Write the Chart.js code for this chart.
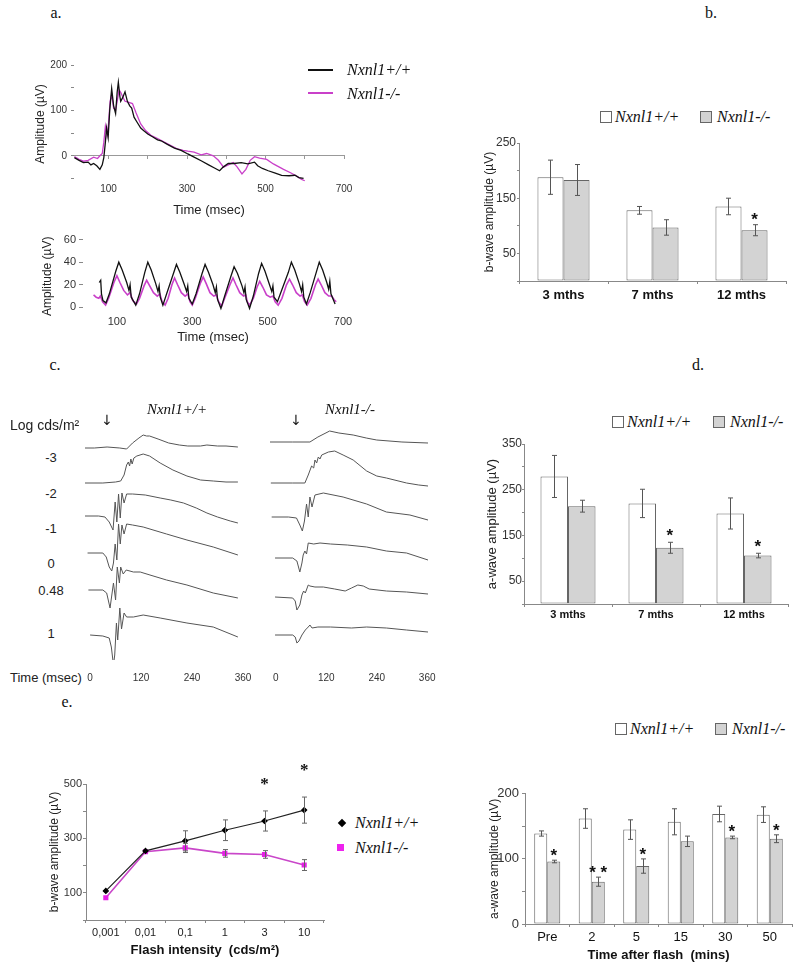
<!DOCTYPE html>
<html>
<head>
<meta charset="utf-8">
<title>Nxnl1 ERG figure</title>
<script src="https://cdn.jsdelivr.net/npm/chart.js@4.4.1/dist/chart.umd.min.js"></script>
<style>
  body { margin: 0; background: #fff; }
  #fig { position: relative; width: 799px; height: 968px; overflow: hidden; background: #fff; }
  #fig canvas { position: absolute; }
  .txt { position: absolute; white-space: nowrap; transform: translate(-50%, -50%); line-height: 1;
         font-family: "Liberation Sans", Arial, sans-serif; color: #222; }
  .box { position: absolute; box-sizing: border-box; }
</style>
</head>
<body>
<div id="fig"></div>
<script>
// ============================================
// DATA
// ============================================

// a. single flash ERG, time (msec) / amplitude (uV)
const flashT_wt = [13, 25, 36, 48, 55, 62, 70, 78, 84, 88, 92, 95, 99, 103, 108, 113, 118, 122, 125, 129, 131, 136, 142, 148, 154, 159, 165, 172, 182, 190, 200, 212, 225, 234, 250, 268, 285, 302, 318, 336, 355, 370, 383, 392, 405, 420, 438, 455, 472, 480, 492, 507, 525, 541, 560, 575, 585, 597];
const flashA_wt = [-4, -10, -15, -14, -20, -17, -22, -30, -20, -4, 30, 61, 40, 100, 148, 110, 93, 140, 162, 130, 120, 128, 141, 120, 110, 105, 85, 75, 61, 55, 48, 42, 35, 33, 25, 17, 12, 4, -3, -11, -20, -27, -33, -25, -17, -17, -15, -18, -14, -22, -28, -33, -38, -43, -44, -43, -48, -50];
const flashT_ko = [13, 25, 36, 48, 62, 72, 78, 84, 88, 92, 96, 100, 104, 108, 113, 118, 123, 127, 131, 136, 142, 150, 161, 170, 182, 195, 208, 225, 242, 260, 276, 290, 302, 318, 336, 350, 367, 380, 393, 405, 418, 428, 440, 450, 461, 472, 485, 503, 520, 546, 565, 580, 592, 600];
const flashA_ko = [-2, -8, -12, -10, -3, -6, 0, 5, 30, 65, 45, 70, 120, 135, 105, 100, 125, 145, 140, 130, 120, 118, 115, 95, 70, 55, 45, 38, 30, 22, 15, 12, 10, 8, 2, 5, 0, -10, -25, -20, -15, -25, -40, -30, -10, -2, -5, -8, -18, -30, -38, -45, -52, -55];

// a. flicker ERG
const flickT_wt = [53, 57, 59, 63, 71, 80, 97, 105, 114, 126, 132, 135, 138, 150, 160, 174, 182, 191, 203, 209, 212, 215, 222, 232, 250, 258, 267, 279, 285, 288, 291, 300, 310, 326, 334, 343, 355, 361, 364, 367, 376, 386, 403, 411, 420, 432, 437, 440, 443, 452, 462, 476, 484, 493, 505, 511, 514, 517, 526, 536, 555, 563, 572, 584, 590, 593, 596, 603, 613, 629, 637, 646, 657, 662, 665, 668, 679];
const flickA_wt = [22, 24, 12, 6, 4, 12, 32, 40, 33, 22, 15, 20, 9, 2, 12, 31, 40, 33, 21, 14, 19, 9, 2, 12, 30, 38, 31, 20, 14, 19, 8, 3, 12, 30, 38, 31, 20, 13, 18, 7, -1, 10, 28, 36, 30, 19, 13, 18, 7, -1, 10, 30, 39, 32, 20, 14, 19, 9, 5, 14, 31, 40, 33, 21, 14, 20, 9, 3, 13, 31, 40, 33, 22, 16, 23, 12, 3];
const flickT_ko = [38, 45, 52, 56, 62, 70, 78, 92, 100, 108, 118, 128, 135, 142, 152, 160, 172, 179, 187, 197, 207, 214, 220, 228, 236, 246, 253, 261, 271, 281, 288, 294, 300, 308, 321, 329, 337, 347, 357, 364, 370, 378, 386, 400, 408, 416, 426, 436, 442, 446, 452, 462, 472, 479, 487, 497, 507, 514, 520, 528, 538, 550, 558, 566, 576, 586, 592, 598, 605, 615, 627, 634, 642, 652, 662, 670, 676, 682];
const flickA_ko = [11, 9, 8, 10, 5, 2, 8, 22, 28, 22, 15, 11, 13, 6, 3, 8, 19, 24, 19, 13, 10, 12, 5, 2, 8, 20, 26, 20, 13, 10, 12, 5, 2, 8, 21, 27, 21, 13, 10, 11, 5, 1, 8, 20, 26, 20, 13, 10, 11, 5, 2, 8, 18, 23, 18, 11, 9, 10, 5, 2, 8, 20, 25, 20, 13, 10, 11, 5, 2, 8, 20, 25, 20, 13, 10, 10, 7, 5];

const timeTicksA = [100, 300, 500, 700];
const zeroTicksA = [100, 200, 300, 400, 500, 600, 700];
const flashYTicks = [-50, 0, 50, 100, 150, 200];
const flashYLabels = [0, 100, 200];
const flickYTicks = [0, 20, 40, 60];

// b. b-wave amplitude by age
const ageGroups = ['3 mths', '7 mths', '12 mths'];
const bwaveWT = [188, 128, 135];
const bwaveWTErr = [31, 7, 15];
const bwaveKO = [183, 97, 92];
const bwaveKOErr = [28, 14, 10];
const bwaveKOSig = ['', '', '*'];
const bYLabels = [50, 150, 250];

// c. intensity series, [time msec, relative amplitude]
const intensityLabels = ['-3', '-2', '-1', '0', '0.48', '1'];
const traceTicks = [0, 120, 240, 360];
const wtM3 = [[-12, 0], [10, 0], [40, 1], [70, 0], [86, -1], [100, 5], [115, 10], [125, 13], [133, 12], [140, 12], [160, 9], [185, 5], [210, 3], [230, 2], [260, 2], [275, 3], [300, 2], [320, 2], [348, 1]];
const wtM2 = [[-12, 0], [30, 0], [60, 1], [72, 2], [80, 8], [86, 18], [90, 21], [93, 17], [96, 24], [99, 19], [103, 25], [110, 27], [125, 29], [140, 27], [165, 20], [195, 13], [228, 7], [260, 3], [290, 2], [320, 1], [348, 1]];
const wtM1 = [[-12, 0], [20, 0], [35, -1], [45, -6], [54, -14], [59, 14], [63, -6], [67, 22], [71, -2], [75, 23], [80, 13], [86, 22], [100, 22], [130, 21], [165, 18], [190, 16], [220, 13], [250, 8], [275, 3], [300, -1], [330, -5], [348, -7]];
const wt0 = [[-6, 0], [30, 0], [38, -4], [45, -14], [51, -18], [55, -10], [59, 9], [63, -7], [67, 29], [71, 9], [75, 28], [80, 19], [86, 29], [100, 28], [125, 26], [180, 19], [228, 13], [290, 6], [348, -2]];
const wt048 = [[-4, 0], [30, 0], [39, -3], [47, -18], [55, 7], [60, -10], [64, 23], [69, 7], [72, 23], [78, 16], [85, 20], [102, 18], [118, 18], [141, 15], [180, 10], [228, 5], [290, -3], [348, -8]];
const wt1 = [[0, 0], [30, -1], [45, -3], [50, -12], [55, -30], [58, -20], [62, 12], [65, -5], [70, 27], [74, 6], [80, 22], [86, 18], [102, 18], [125, 20], [165, 17], [228, 12], [290, 8], [348, -2]];
const koM3 = [[-14, 0], [40, 0], [81, 0], [100, 5], [128, 11], [150, 9], [184, 7], [215, 4], [240, 2], [300, 0], [362, -1]];
const koM2 = [[-12, 0], [40, 0], [69, 0], [77, 8], [85, 17], [90, 15], [93, 23], [97, 20], [101, 26], [105, 24], [109, 28], [125, 31], [140, 32], [160, 28], [184, 23], [216, 12], [240, 7], [263, 5], [311, 0], [340, -2], [362, -3]];
const koM1 = [[-10, 0], [30, 0], [49, -1], [57, -8], [63, -14], [68, -4], [73, 13], [77, 0], [81, 20], [86, 10], [93, 22], [113, 24], [160, 20], [216, 13], [263, 5], [319, 2], [362, -3]];
const ko0 = [[-2, 0], [40, 0], [50, -3], [57, -14], [62, -5], [65, 3], [69, 7], [73, 4], [77, 15], [90, 14], [105, 15], [130, 14], [170, 13], [216, 11], [263, 7], [311, 5], [362, -2]];
const ko048 = [[-2, 0], [40, -1], [46, -4], [50, -13], [57, -8], [62, 2], [66, 6], [70, 4], [77, 12], [81, 11], [93, 10], [113, 10], [140, 8], [165, 6], [180, 9], [195, 12], [208, 11], [222, 8], [263, 6], [311, 5], [362, 3]];
const ko1 = [[-2, 0], [40, 0], [46, -2], [50, -8], [55, -6], [62, 0], [70, 5], [77, 8], [81, 10], [86, 7], [100, 8], [130, 8], [180, 7], [216, 8], [263, 7], [311, 5], [362, 3]];

// d. a-wave amplitude by age
const awaveWT = [279, 220, 198];
const awaveWTErr = [46, 31, 34];
const awaveKO = [214, 123, 106];
const awaveKOErr = [13, 12, 5];
const awaveKOSig = ['', '*', '*'];
const dYLabels = [50, 150, 250, 350];

// e. intensity-response
const flashIntensities = ['0,001', '0,01', '0,1', '1', '3', '10'];
const ivWT = [107, 254, 291, 330, 364, 404];
const ivWTErr = [0, 0, 37, 38, 37, 48];
const ivWTSig = ['', '', '', '', '*', '*'];
const ivKO = [82, 251, 265, 245, 241, 202];
const ivKOErr = [0, 0, 17, 14, 14, 20];
const eYLabels = [100, 300, 500];

// f. recovery after bleaching flash
const recoveryTimes = ['Pre', '2', '5', '15', '30', '50'];
const recWT = [139, 162, 145, 157, 169, 168];
const recWTErr = [4, 15, 15, 20, 12, 12];
const recKO = [96, 65, 89, 127, 133, 131];
const recKOErr = [2, 7, 11, 8, 2, 6];
const recKOSig = ['*', '* *', '*', '', '*', '*'];
const fYLabels = [0, 100, 200];

// ============================================
// LAYOUT HELPERS
// ============================================

const fig = document.getElementById('fig');
const SANS = "'Liberation Sans', Arial, sans-serif";
const SERIF = "'Liberation Serif', 'Times New Roman', serif";
Chart.defaults.font.family = SANS;
Chart.defaults.color = '#222';

// error bars and significance marks drawn from dataset.errors / dataset.marks
const errorBars = {
    id: 'errorBars',
    afterDatasetsDraw(chart, args, opts) {
        const ctx = chart.ctx;
        const yScale = chart.scales.y;
        chart.data.datasets.forEach((ds, i) => {
            if (!ds.errors) return;
            chart.getDatasetMeta(i).data.forEach((el, j) => {
                const v = ds.data[j];
                const e = ds.errors[j] || 0;
                const top = yScale.getPixelForValue(v + e);
                const bottom = yScale.getPixelForValue(v - e);
                const x = Math.round(el.x) + 0.5;
                ctx.save();
                if (e) {
                    ctx.strokeStyle = opts.color;
                    ctx.lineWidth = 1;
                    ctx.beginPath();
                    ctx.moveTo(x, top); ctx.lineTo(x, bottom);
                    ctx.moveTo(x - opts.cap, top); ctx.lineTo(x + opts.cap, top);
                    ctx.moveTo(x - opts.cap, bottom); ctx.lineTo(x + opts.cap, bottom);
                    ctx.stroke();
                }
                const mark = ds.marks && ds.marks[j];
                if (mark) {
                    ctx.fillStyle = '#111';
                    ctx.font = opts.markFont;
                    ctx.textAlign = 'center';
                    ctx.textBaseline = 'middle';
                    ctx.fillText(mark, el.x, top - opts.markGap);
                }
                ctx.restore();
            });
        });
    }
};

/**
 * Puts a chart on the page so that its plot area lands on `area`
 * @param {object} area - plot rectangle {x, y, w, h} in page pixels
 * @param {object} room - space round the plot for ticks and titles {l, r, t, b}
 * @param {object} config - Chart.js config
 */
function placeChart(area, room, config) {
    const canvas = document.createElement('canvas');
    const w = area.w + room.l + room.r;
    const h = area.h + room.t + room.b;
    canvas.width = w;
    canvas.height = h;
    canvas.style.left = (area.x - room.l) + 'px';
    canvas.style.top = (area.y - room.t) + 'px';
    canvas.style.width = w + 'px';
    canvas.style.height = h + 'px';
    fig.appendChild(canvas);

    const o = config.options;
    o.responsive = false;
    o.animation = false;
    o.devicePixelRatio = 1;
    o.layout = { padding: { top: room.t, right: room.r, left: 0, bottom: 0 } };
    o.scales.x.afterFit = s => { s.height = room.b; };
    o.scales.y.afterFit = s => { s.width = room.l; };
    o.plugins = Object.assign({ legend: { display: false }, tooltip: { enabled: false } }, o.plugins || {});
    return new Chart(canvas, config);
}

function addText(text, x, y, style, anchorLeft) {
    const d = document.createElement('div');
    d.className = 'txt';
    d.textContent = text;
    d.style.left = x + 'px';
    d.style.top = y + 'px';
    if (anchorLeft) d.style.transform = 'translate(0, -50%)';
    Object.assign(d.style, style || {});
    fig.appendChild(d);
}

function addBox(x, y, w, h, style) {
    const d = document.createElement('div');
    d.className = 'box';
    Object.assign(d.style, { left: x + 'px', top: y + 'px', width: w + 'px', height: h + 'px' }, style);
    fig.appendChild(d);
}

const pairs = (ts, vs) => ts.map((t, i) => ({ x: t, y: vs[i] }));
const fixedTicks = list => s => { s.ticks = list.map(v => ({ value: v })); };
const onlyLabels = list => v => (list.includes(v) ? v : '');
// hidden tick marks whose length only pushes the labels down
const labelDrop = n => ({ display: false, drawTicks: true, tickLength: n });

const panelLabel = { fontFamily: SERIF, fontSize: '16px', color: '#111' };
const legendText = { fontFamily: SERIF, fontStyle: 'italic', fontSize: '16px', color: '#111' };
const WT_FILL = '#ffffff';
const KO_FILL = '#d3d3d3';
const BAR_EDGE = '#666';
const MAGENTA = '#c940c9';

// ============================================
// PANEL A
// ============================================

placeChart({ x: 74, y: 63, w: 270, h: 120 }, { l: 41, r: 10, t: 8, b: 35 }, {
    type: 'line',
    data: {
        datasets: [
            { data: pairs(flashT_wt, flashA_wt), xAxisID: 'x', borderColor: '#111', borderWidth: 1.3, pointRadius: 0 },
            { data: pairs(flashT_ko, flashA_ko), xAxisID: 'x', borderColor: MAGENTA, borderWidth: 1.3, pointRadius: 0 }
        ]
    },
    options: {
        scales: {
            x: {
                type: 'linear', min: 12, max: 700,
                afterBuildTicks: fixedTicks(timeTicksA),
                grid: labelDrop(0), border: { display: false },
                ticks: { font: { size: 10 }, padding: 0, maxRotation: 0, color: '#333' },
                title: { display: true, text: 'Time (msec)', font: { size: 13 }, padding: 0, color: '#222' }
            },
            zero: {
                axis: 'x', type: 'linear', min: 12, max: 700, position: { y: 0 },
                afterBuildTicks: fixedTicks(zeroTicksA),
                ticks: { display: false },
                grid: { drawOnChartArea: false, tickLength: 3, color: '#999' },
                border: { display: true, color: '#999' }
            },
            y: {
                min: -60, max: 200,
                afterBuildTicks: fixedTicks(flashYTicks),
                ticks: { callback: onlyLabels(flashYLabels), font: { size: 10 }, padding: 4, color: '#333' },
                grid: { drawOnChartArea: false, tickLength: 3, color: '#888' },
                border: { display: false },
                title: { display: true, text: 'Amplitude (µV)', font: { size: 12 }, padding: 0, color: '#222' }
            }
        }
    }
});

placeChart({ x: 83, y: 238, w: 260, h: 75 }, { l: 43, r: 10, t: 8, b: 32 }, {
    type: 'line',
    data: {
        datasets: [
            { data: pairs(flickT_wt, flickA_wt), borderColor: '#111', borderWidth: 1.3, pointRadius: 0 },
            { data: pairs(flickT_ko, flickA_ko), borderColor: MAGENTA, borderWidth: 1.6, pointRadius: 0 }
        ]
    },
    options: {
        scales: {
            x: {
                type: 'linear', min: 10, max: 700,
                afterBuildTicks: fixedTicks(timeTicksA),
                grid: labelDrop(2), border: { display: false },
                ticks: { font: { size: 11 }, padding: 0, maxRotation: 0, color: '#333' },
                title: { display: true, text: 'Time (msec)', font: { size: 13 }, padding: 0, color: '#222' }
            },
            y: {
                min: -5, max: 60,
                afterBuildTicks: fixedTicks(flickYTicks),
                ticks: { font: { size: 11 }, padding: 3, color: '#333' },
                grid: { drawOnChartArea: false, tickLength: 4, color: '#888' },
                border: { display: false },
                title: { display: true, text: 'Amplitude (µV)', font: { size: 12 }, padding: 0, color: '#222' }
            }
        }
    }
});

addText('a.', 56, 13, panelLabel);
addBox(308, 69, 25, 2, { background: '#111' });
addText('Nxnl1+/+', 347, 70, legendText, true);
addBox(308, 92, 25, 2, { background: MAGENTA });
addText('Nxnl1-/-', 347, 94, legendText, true);

// ============================================
// BAR PANELS (b, d, f)
// ============================================

function barPanel(area, room, cfg) {
    return placeChart(area, room, {
        type: 'bar',
        data: {
            labels: cfg.labels,
            datasets: [
                { data: cfg.wt, errors: cfg.wtErr, backgroundColor: WT_FILL, borderColor: BAR_EDGE, borderWidth: 1, borderSkipped: false },
                { data: cfg.ko, errors: cfg.koErr, marks: cfg.koSig, backgroundColor: KO_FILL, borderColor: BAR_EDGE, borderWidth: 1, borderSkipped: false }
            ]
        },
        options: {
            datasets: { bar: { categoryPercentage: cfg.catPct, barPercentage: 1 } },
            scales: {
                x: {
                    grid: { display: true, drawOnChartArea: false, offset: true, tickLength: 3, color: '#888' },
                    border: { color: '#888' },
                    ticks: { font: cfg.xFont, color: '#111', padding: cfg.xPad, maxRotation: 0 },
                    title: cfg.xTitle
                        ? { display: true, text: cfg.xTitle, font: { size: 13, weight: 'bold' }, padding: 0, color: '#111' }
                        : { display: false }
                },
                y: {
                    min: 0, max: cfg.max,
                    ticks: { stepSize: 50, callback: onlyLabels(cfg.yLabels), font: { size: cfg.yFont }, padding: cfg.yPad, color: '#333' },
                    grid: { drawOnChartArea: false, tickLength: cfg.yTick, color: '#888' },
                    border: { color: '#888' },
                    title: { display: true, text: cfg.yTitle, font: { size: cfg.yTitleSize }, padding: 0, color: '#222' }
                }
            },
            plugins: { errorBars: { color: '#555', cap: 2.5, markGap: cfg.markGap, markFont: 'bold 17px ' + SANS } }
        },
        plugins: [errorBars]
    });
}

function barLegend(x1, x2, y) {
    addBox(x1, y - 6, 12, 12, { background: WT_FILL, border: '1px solid ' + BAR_EDGE });
    addText('Nxnl1+/+', x1 + 15, y, legendText, true);
    addBox(x2, y - 6, 12, 12, { background: KO_FILL, border: '1px solid ' + BAR_EDGE });
    addText('Nxnl1-/-', x2 + 17, y, legendText, true);
}

// b.
barPanel({ x: 519, y: 143, w: 267, h: 138 }, { l: 37, r: 8, t: 10, b: 30 }, {
    labels: ageGroups, wt: bwaveWT, wtErr: bwaveWTErr, ko: bwaveKO, koErr: bwaveKOErr, koSig: bwaveKOSig,
    catPct: 0.585, max: 250, yLabels: bYLabels, yFont: 12, yPad: 1, yTick: 2,
    xFont: { size: 13, weight: 'bold' }, xPad: 4,
    yTitle: 'b-wave amplitude (µV)', yTitleSize: 12, markGap: 4
});
addText('b.', 711, 13, panelLabel);
barLegend(600, 700, 117);

// d.
barPanel({ x: 524, y: 444, w: 264, h: 160 }, { l: 39, r: 8, t: 10, b: 22 }, {
    labels: ageGroups, wt: awaveWT, wtErr: awaveWTErr, ko: awaveKO, koErr: awaveKOErr, koSig: awaveKOSig,
    catPct: 0.625, max: 350, yLabels: dYLabels, yFont: 12, yPad: 0, yTick: 2,
    xFont: { size: 11, weight: 'bold' }, xPad: 1,
    yTitle: 'a-wave amplitude (µV)', yTitleSize: 13, markGap: 6
});
addText('d.', 698, 365, panelLabel);
barLegend(612, 713, 422);

// f.
barPanel({ x: 525, y: 793, w: 267, h: 131 }, { l: 38, r: 6, t: 10, b: 39 }, {
    labels: recoveryTimes, wt: recWT, wtErr: recWTErr, ko: recKO, koErr: recKOErr, koSig: recKOSig,
    catPct: 0.585, max: 200, yLabels: fYLabels, yFont: 13, yPad: 3, yTick: 3,
    xFont: { size: 13 }, xPad: 3, xTitle: 'Time after flash  (mins)',
    yTitle: 'a-wave amplitude (µV)', yTitleSize: 12, markGap: 4
});
barLegend(615, 715, 729);

// ============================================
// PANEL C: stacked intensity series
// ============================================

const wtTraces = [wtM3, wtM2, wtM1, wt0, wt048, wt1];
const koTraces = [koM3, koM2, koM1, ko0, ko048, ko1];
const wtRows = [212, 177, 144, 107, 70, 25];   // baseline height of each row in the plot
const koRows = [218, 177, 143, 102, 63, 25];

function tracePanel(area, xMin, xMax, traces, rows) {
    return placeChart(area, { l: 0, r: 12, t: 0, b: 28 }, {
        type: 'line',
        data: {
            datasets: traces.map((tr, i) => ({
                data: tr.map(([t, a]) => ({ x: t, y: rows[i] + a })),
                borderColor: '#555', borderWidth: 1, pointRadius: 0
            }))
        },
        options: {
            scales: {
                x: {
                    type: 'linear', min: xMin, max: xMax,
                    afterBuildTicks: fixedTicks(traceTicks),
                    grid: labelDrop(12), border: { display: false },
                    ticks: { font: { size: 10 }, padding: 0, maxRotation: 0, color: '#333' }
                },
                y: { display: false, min: 0, max: 260 }
            }
        }
    });
}

tracePanel({ x: 85, y: 400, w: 158, h: 260 }, -12, 360, wtTraces, wtRows);
tracePanel({ x: 270, y: 400, w: 158, h: 260 }, -14, 362, koTraces, koRows);

addText('c.', 55, 365, panelLabel);
const headText = { fontFamily: SERIF, fontStyle: 'italic', fontSize: '15px', color: '#111' };
addText('Nxnl1+/+', 177, 409, headText);
addText('Nxnl1-/-', 350, 409, headText);
addText('↓', 107, 420, { fontSize: '14px', fontFamily: "'DejaVu Sans', sans-serif", color: '#111' });
addText('↓', 296, 420, { fontSize: '14px', fontFamily: "'DejaVu Sans', sans-serif", color: '#111' });
addText('Log cds/m²', 10, 425, { fontSize: '14px' }, true);
const rowLabelY = [457, 493, 528, 563, 590, 633];
intensityLabels.forEach((t, i) => addText(t, 51, rowLabelY[i], { fontSize: '13px' }));
addText('Time (msec)', 10, 677, { fontSize: '13px' }, true);

// ============================================
// PANEL E: intensity-response
// ============================================

placeChart({ x: 86, y: 784, w: 238, h: 136 }, { l: 39, r: 6, t: 30, b: 38 }, {
    type: 'line',
    data: {
        labels: flashIntensities,
        datasets: [
            { data: ivWT, errors: ivWTErr, marks: ivWTSig, borderColor: '#222', borderWidth: 1.2,
              pointStyle: 'rectRot', pointRadius: 2.5, pointBackgroundColor: '#000', pointBorderColor: '#000' },
            { data: ivKO, errors: ivKOErr, borderColor: '#c946c9', borderWidth: 1.6,
              pointStyle: 'rect', pointRadius: 2.5, pointBackgroundColor: '#e61ee6', pointBorderColor: '#e61ee6' }
        ]
    },
    options: {
        scales: {
            x: {
                offset: true,
                grid: { display: true, drawOnChartArea: false, offset: true, tickLength: 3, color: '#888' },
                border: { color: '#888' },
                ticks: { font: { size: 11 }, padding: 3, color: '#222', maxRotation: 0 },
                title: { display: true, text: 'Flash intensity  (cds/m²)', font: { size: 13, weight: 'bold' }, padding: 0, color: '#111' }
            },
            y: {
                min: 0, max: 500,
                ticks: { stepSize: 50, callback: onlyLabels(eYLabels), font: { size: 11 }, padding: 1, color: '#333' },
                grid: { drawOnChartArea: false, tickLength: 3, color: '#888' },
                border: { color: '#888' },
                title: { display: true, text: 'b-wave amplitude (µV)', font: { size: 12 }, padding: 0, color: '#222' }
            }
        },
        plugins: { errorBars: { color: '#666', cap: 2.5, markGap: 26, markFont: 'bold 17px ' + SERIF } }
    },
    plugins: [errorBars]
});

addText('e.', 67, 702, panelLabel);
addBox(339, 820, 6, 6, { background: '#000', transform: 'rotate(45deg)' });
addText('Nxnl1+/+', 355, 823, legendText, true);
addBox(337, 844, 7, 7, { background: '#ee22ee' });
addText('Nxnl1-/-', 355, 848, legendText, true);
</script>
</body>
</html>
